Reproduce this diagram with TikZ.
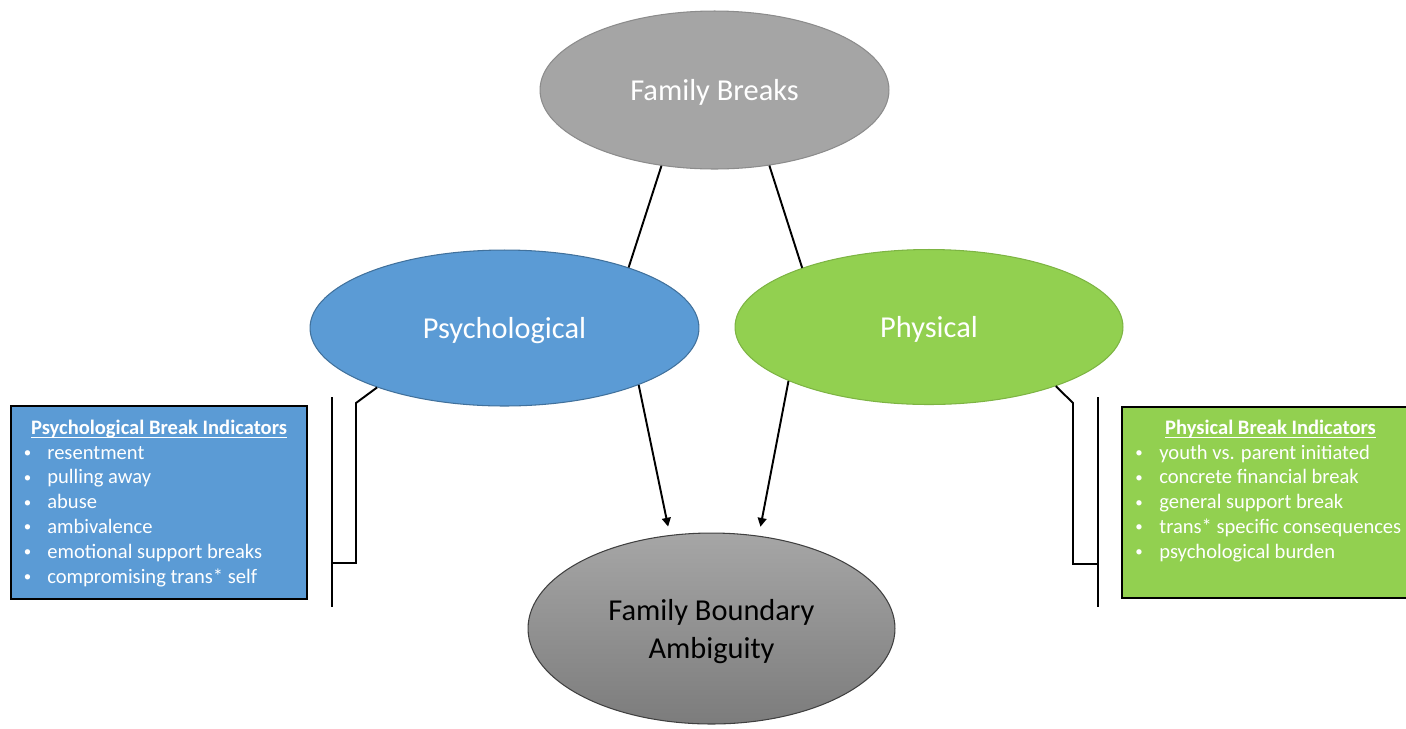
\documentclass[tikz,border=0pt]{standalone}
\usepackage{fontspec}
\setmainfont{Carlito}
\usepackage{tikz}
\usetikzlibrary{positioning, arrows.meta, shapes.geometric}
\definecolor{fbGray}{HTML}{A5A5A5}
\definecolor{fbGrayD}{HTML}{8C8C8C}
\definecolor{psyBlue}{HTML}{5B9BD5}
\definecolor{psyBlueD}{HTML}{41719C}
\definecolor{phyGreen}{HTML}{92D050}
\definecolor{phyGreenD}{HTML}{7DB443}
\definecolor{ambTop}{HTML}{A6A6A6}
\definecolor{ambBot}{HTML}{7C7C7C}
% underline that sits just under the baseline
\newcommand{\hdul}[1]{\setbox0\hbox{#1}\rlap{\rule[-2.3pt]{\wd0}{0.7pt}}\box0}
% small list bullet
\newcommand{\sbul}{\raisebox{0.9pt}{\fontsize{8.5}{8.5}\selectfont\textbullet}}

\begin{document}
\begin{tikzpicture}[
    x=0.02cm, y=-0.02cm,
    ell/.style  ={ellipse, line width=0.6pt, align=center, inner sep=0pt, text depth=0pt, font=\fontsize{17.3}{21.7}\selectfont},
    ibox/.style ={draw=black, line width=1.1pt, inner sep=0pt},
    ititle/.style={anchor=base, inner sep=0pt, text=white, font=\fontsize{11.7}{14}\selectfont\bfseries},
    item/.style ={anchor=base west, inner sep=0pt, text=white, font=\fontsize{11.7}{14}\selectfont},
    ln/.style   ={line width=1.1pt, black},
    arr/.style  ={ln, -{Triangle[length=5pt, width=5pt]}},
]
\useasboundingbox (0,0) rectangle (1406,728);

% ---- Ellipses ----
\node[ell, fill=fbGray, draw=fbGrayD, text=white, minimum width=6.98cm, minimum height=3.16cm] (fb) at (714.5,90) {Family Breaks};
\node[ell, fill=psyBlue, draw=psyBlueD, text=white, minimum width=7.78cm, minimum height=3.12cm] (psych) at (504.5,328) {Psychological};
\node[ell, fill=phyGreen, draw=phyGreenD, text=white, minimum width=7.76cm, minimum height=3.1cm] (phys) at (929,327) {Physical};
\node[ell, top color=ambTop, bottom color=ambBot, draw=black!75, text=black, minimum width=7.34cm, minimum height=3.82cm] (fba) at (711.5,628.5) {Family Boundary\\Ambiguity};

% ---- Indicator boxes ----
\node[ibox, fill=psyBlue, minimum width=5.92cm, minimum height=3.86cm] (pbox) at (159,502.5) {};
\node[ititle] (ptitle) at (159,434) {\hdul{Psychological Break Indicators}};
\foreach \txt [count=\i] in {resentment, pulling away, abuse, ambivalence, emotional support breaks, compromising trans* self}
  \node[item] (pi\i) at (47,434.2+24.8*\i) {\llap{\makebox[22.6pt]{\sbul}}\txt};

\node[ibox, fill=phyGreen, minimum width=5.72cm, minimum height=3.82cm] (phbox) at (1265,502.5) {};
\node[ititle] (phtitle) at (1270.5,434) {\hdul{Physical Break Indicators}};
\foreach \txt [count=\i] in {youth vs. parent initiated, concrete financial break, general support break, trans* specific consequences, psychological burden}
  \node[item] (phi\i) at (1159,434.2+24.8*\i) {\llap{\makebox[23.2pt]{\sbul}}\txt};

% ---- Brackets ----
\coordinate (ltop) at (332,397);
\coordinate (lbot) at (332,607);
\coordinate (lbend) at (356,403);
\coordinate (lfoot) at (356,563);
\coordinate (rtop) at (1098,397);
\coordinate (rbot) at (1098,607);
\coordinate (rbend) at (1073,403);
\coordinate (rfoot) at (1073,564);

\draw[ln] (ltop) -- (lbot);
\draw[ln] (psych.205) -- (lbend) -- (lfoot) -- (lfoot -| ltop);
\draw[ln] (rtop) -- (rbot);
\draw[ln] (phys.335) -- (rbend) -- (rfoot) -- (rfoot -| rtop);

% ---- Connectors ----
\draw[ln] (fb.235) -- (psych.26);
\draw[ln] (fb.306) -- (phys.155);
\draw[arr, shorten >=4.9pt] (psych.337) -- (fba.114);
\draw[arr, shorten >=5.2pt] (phys.201) -- (fba.63);

\end{tikzpicture}
\end{document}
